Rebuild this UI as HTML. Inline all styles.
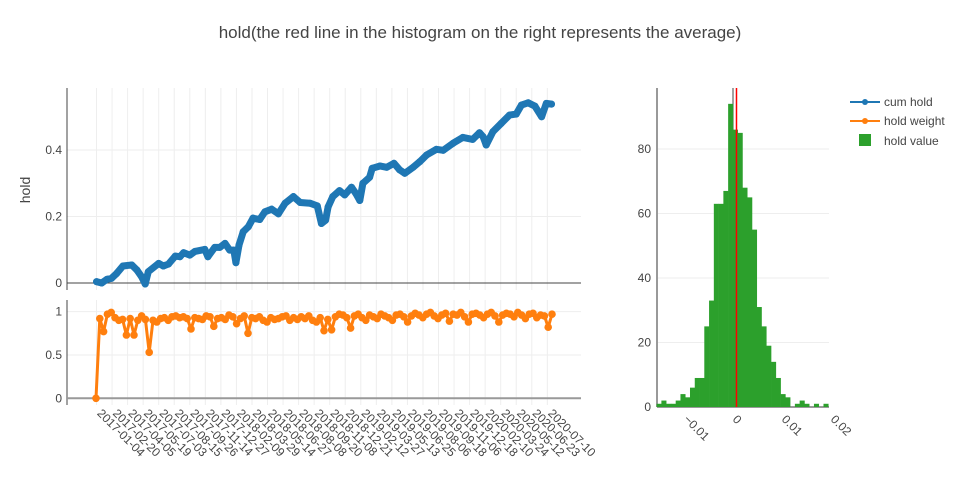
<!DOCTYPE html>
<html><head><meta charset="utf-8">
<style>
html,body{margin:0;padding:0;background:#fff;}
svg text{font-family:"Liberation Sans",Arial,sans-serif;fill:#444;}
</style></head>
<body>
<svg id="chart" width="980" height="480" xmlns="http://www.w3.org/2000/svg">
<text x="480" y="38" text-anchor="middle" font-size="17">hold(the red line in the histogram on the right represents the average)</text>
<g id="grid"></g>
<g id="axes"></g>
<g id="marks"></g>
<g id="legend">
 <g>
  <line x1="850" y1="102" x2="880" y2="102" stroke="#1f77b4" stroke-width="2"/><circle cx="865" cy="102" r="3" fill="#1f77b4"/>
  <text x="884" y="106" font-size="12">cum hold</text></g>
 <g>
  <line x1="850" y1="121" x2="880" y2="121" stroke="#ff7f0e" stroke-width="2"/><circle cx="865" cy="121" r="3" fill="#ff7f0e"/>
  <text x="884" y="125" font-size="12">hold weight</text></g>
 <g>
  <rect x="859" y="134" width="12" height="12" fill="#2ca02c"/>
  <text x="884" y="145" font-size="12">hold value</text></g>
</g>
</svg>
<script>
// ---- data ----
const cumIdx = [1,11,21,30,40,52,69,79,88,95,101,121,130,140,153,162,169,181,191,210,216,229,239,249,258,266,270,276,284,294,303,316,326,339,352,365,381,394,413,427,
435,443,448,457,470,480,493,502,509,515,528,533,548,561,575,586,596,612,625,638,657,670,689,708,727,740,747,753,766,782,798,811,821,834,847,860,869,879];
const cumVal = [0.004,0.0,0.011,0.014,0.029,0.051,0.054,0.039,0.019,-0.003,0.034,0.059,0.051,0.057,0.081,0.079,0.091,0.084,0.095,0.101,0.079,0.107,0.107,0.119,0.099,0.099,0.061,0.114,0.154,0.169,0.195,0.191,0.214,0.222,0.208,0.240,0.260,0.242,0.240,0.232,
0.179,0.189,0.229,0.260,0.278,0.265,0.288,0.268,0.248,0.300,0.318,0.345,0.352,0.348,0.360,0.340,0.330,0.348,0.365,0.385,0.402,0.399,0.420,0.438,0.432,0.452,0.440,0.415,0.455,0.480,0.505,0.508,0.535,0.542,0.532,0.500,0.540,0.538];
const weightVal = [0,0.92,0.77,0.97,0.99,0.93,0.90,0.91,0.73,0.92,0.73,0.90,0.95,0.91,0.53,0.90,0.88,0.92,0.93,0.90,
0.94,0.95,0.93,0.94,0.92,0.80,0.93,0.92,0.91,0.95,0.94,0.83,0.92,0.93,0.91,0.96,0.94,0.86,0.92,0.95,
0.75,0.93,0.92,0.94,0.90,0.88,0.93,0.91,0.92,0.94,0.95,0.90,0.93,0.91,0.94,0.92,0.95,0.90,0.88,0.93,
0.78,0.91,0.79,0.94,0.97,0.96,0.93,0.81,0.95,0.97,0.93,0.90,0.96,0.94,0.92,0.97,0.95,0.93,0.90,0.96,
0.97,0.94,0.88,0.95,0.98,0.96,0.93,0.97,0.99,0.95,0.92,0.96,0.98,0.89,0.97,0.96,0.99,0.94,0.88,0.97,
0.98,0.96,0.93,0.97,0.99,0.95,0.88,0.96,0.98,0.97,0.94,0.99,0.96,0.92,0.97,0.98,0.93,0.96,0.95,0.82,0.97];
const histCounts = [1,2,1,1,2,4,3,6,9,9,25,33,63,63,67,94,86,85,68,65,55,31,25,19,14,9,4,3,0,1,2,1,0,1,0,1];
const histStart = -0.0162;
const histBin = 0.000973;
const histMean = 0.0001;
const dateLabels = ["2017-01-04","2017-02-20","2017-04-05","2017-05-19","2017-07-03","2017-08-15","2017-09-26","2017-11-14","2017-12-27","2018-02-09","2018-03-29","2018-05-14","2018-06-27","2018-08-08","2018-09-20","2018-11-08","2018-12-21","2019-02-12","2019-03-27","2019-05-13","2019-06-25","2019-08-06","2019-09-18","2019-11-06","2019-12-18","2020-02-10","2020-03-24","2020-05-12","2020-06-23","2020-07-10"];
const topTicks = [0,0.2,0.4];
const botTicks = [0,0.5,1];
const histYTicks = [0,20,40,60,80];
const histXTicks = [-0.01,0,0.01,0.02];
const nDays = 880;

// ---- scales ----
const NS='http://www.w3.org/2000/svg';
const xL = i => 96 + i*(552-96)/nDays;
const yTop = v => 283 - v*332.5;
const yBot = v => 398.3 - v*86.7;
const xH = v => 736 + v*4900;
const yH = v => 407 - v*3.225;
function mk(tag, attrs, parent){const e=document.createElementNS(NS,tag);for(const k in attrs)e.setAttribute(k,attrs[k]);document.getElementById(parent).appendChild(e);return e;}

dateLabels.forEach((d,k)=>{
  const x = xL(1+30*k);
  const g1 = mk('line',{x1:x,x2:x,y1:88,y2:290,stroke:'#eee','stroke-width':1},'grid');
  
  
  const g2 = mk('line',{x1:x,x2:x,y1:300,y2:405,stroke:'#eee','stroke-width':1},'grid');
  
  
  const t = mk('text',{x:x,y:414,'font-size':12,transform:`rotate(45 ${x} 414)`},'axes');
  t.textContent = d;
  
  
});
topTicks.forEach(v=>{
  const y=yTop(v);
  if(v!==0){const g=mk('line',{x1:67,x2:581,y1:y,y2:y,stroke:'#eee'},'grid');}
  const t=mk('text',{x:62,y:y+4,'font-size':12,'text-anchor':'end'},'axes');t.textContent=String(v);
  
  
});
botTicks.forEach(v=>{
  const y=yBot(v);
  if(v!==0){const g=mk('line',{x1:67,x2:581,y1:y,y2:y,stroke:'#eee'},'grid');}
  const t=mk('text',{x:62,y:y+4,'font-size':12,'text-anchor':'end'},'axes');t.textContent=String(v);
  
  
});
histYTicks.forEach(v=>{
  const y=yH(v);
  if(v!==0){const g=mk('line',{x1:657,x2:829,y1:y,y2:y,stroke:'#eee'},'grid');}
  const t=mk('text',{x:651,y:y+4,'font-size':12,'text-anchor':'end'},'axes');t.textContent=String(v);
  
  
});
histXTicks.forEach(v=>{
  const x=xH(v);
  const t=mk('text',{x:x-4,y:420,'font-size':12,transform:`rotate(45 ${x-4} 420)`},'axes');t.textContent=String(v).replace('-','\u2212');
  
  
});
[[67,88,67,290,'#444'],[67,283,581,283,'#444'],[67,300,67,405,'#444'],[67,398.3,581,398.3,'#999'],[657,88,657,407,'#999'],[657,407,829,407,'#999']].forEach(a=>{
  const l=mk('line',{x1:a[0],y1:a[1],x2:a[2],y2:a[3],stroke:a[4],'stroke-width':a[4]=='#999'?2:1},'axes');
  
  
});
const yt=mk('text',{x:30,y:190,'font-size':14,'text-anchor':'middle',transform:'rotate(-90 30 190)'},'axes');
yt.textContent='hold';



const zl=mk('line',{x1:xH(0)-3,x2:xH(0)-3,y1:88,y2:407,stroke:'#444','stroke-width':1},'marks');


histCounts.forEach((c,i)=>{
  if(c===0) return;
  const x0=xH(histStart+i*histBin), x1=xH(histStart+(i+1)*histBin);
  const r=mk('rect',{x:x0,y:yH(c),width:x1-x0+0.3,height:yH(0)-yH(c),fill:'#2ca02c'},'marks');
  
  
});
const ml=mk('line',{x1:xH(histMean),x2:xH(histMean),y1:88,y2:407,stroke:'red','stroke-width':1.5},'marks');



const cp = cumVal.map((v,i)=>`${xL(cumIdx[i]).toFixed(1)},${yTop(v).toFixed(1)}`).join(' ');
const cl=mk('polyline',{points:cp,fill:'none',stroke:'#1f77b4','stroke-width':7,'stroke-linejoin':'round','stroke-linecap':'round'},'marks');


cumVal.forEach((v,i)=>{
  const c=mk('circle',{cx:xL(cumIdx[i]),cy:yTop(v),r:3.5,fill:'#1f77b4'},'marks');
  
  
});
const wIdx = i => i*nDays/(weightVal.length-1);
const wp = weightVal.map((v,i)=>`${xL(wIdx(i)).toFixed(1)},${yBot(v).toFixed(1)}`).join(' ');
const wl=mk('polyline',{points:wp,fill:'none',stroke:'#ff7f0e','stroke-width':3,'stroke-linejoin':'round'},'marks');


weightVal.forEach((v,i)=>{
  const c=mk('circle',{cx:xL(wIdx(i)),cy:yBot(v),r:3.8,fill:'#ff7f0e'},'marks');
  
  
});
</script>
</body></html>
